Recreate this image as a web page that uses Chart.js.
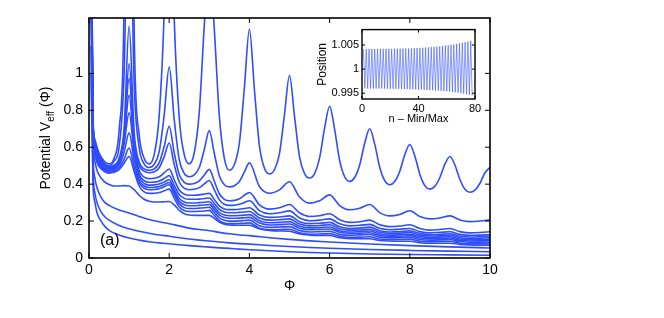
<!DOCTYPE html>
<html>
<head>
<meta charset="utf-8">
<script src="https://cdn.jsdelivr.net/npm/chart.js@4/dist/chart.umd.min.js"></script>
<style>
  html, body { margin: 0; padding: 0; background: #fff; }
  #wrap { position: relative; width: 664px; height: 318px; }
  #main { position: absolute; left: 0; top: 0; }
  #inset { position: absolute; left: 300px; top: 20px; }
</style>
</head>
<body>
<div id="wrap">
  <canvas id="main" width="664" height="318"></canvas>
  <canvas id="inset" width="190" height="110"></canvas>
</div>
<script>
// Phi grids
const phiFine = [0.05, 0.1, 0.15, 0.2, 0.25, 0.375, 0.5, 0.625, 0.75, 0.875, 1, 1.125, 1.25, 1.375, 1.5, 1.625, 1.75, 1.875, 2,
  2.125, 2.25, 2.375, 2.5, 2.625, 2.75, 2.875, 3, 3.125, 3.25, 3.375, 3.5, 3.625, 3.75, 3.875, 4, 4.125, 4.25, 4.375, 4.5,
  4.625, 4.75, 4.875, 5, 5.125, 5.25, 5.375, 5.5, 5.625, 5.75, 5.875, 6, 6.125, 6.25, 6.375, 6.5, 6.625, 6.75, 6.875, 7,
  7.125, 7.25, 7.375, 7.5, 7.625, 7.75, 7.875, 8, 8.125, 8.25, 8.375, 8.5, 8.625, 8.75, 8.875, 9, 9.125, 9.25, 9.375, 9.5,
  9.625, 9.75, 9.875, 10];
const phiMid = [0.05, 0.1, 0.15, 0.2, 0.25, 0.375, 0.5, 0.625, 0.75, 0.875, 1, 1.125, 1.25, 1.375, 1.5, 1.625, 1.75, 1.875, 2,
  2.125, 2.25, 2.375, 2.5, 2.625, 2.75, 2.875, 3, 3.125, 3.25, 3.375, 3.5, 3.625, 3.75, 3.875, 4, 4.25, 4.5, 4.75, 5,
  5.25, 5.5, 5.75, 6, 6.25, 6.5, 6.75, 7, 7.25, 7.5, 7.75, 8, 8.25, 8.5, 8.75, 9, 9.25, 9.5, 9.75, 10];
const phiCoarse = [0.05, 0.1, 0.15, 0.2, 0.3, 0.4, 0.5, 0.75, 1, 1.25, 1.5, 1.75, 2, 2.25, 2.5, 2.75, 3, 3.25, 3.5, 3.75, 4,
  4.5, 5, 5.5, 6, 7, 8, 9, 10];

// V_eff curves (top to bottom)
const v1 = [2.2, 0.76, 0.64, 0.6, 0.57, 0.525, 0.51, 0.54, 0.69, 1.38, 4.9, 1.25, 0.67, 0.54, 0.51, 0.56, 0.77, 1.33, 2.46,
  1.3, 0.76, 0.56, 0.51, 0.57, 0.79, 1.26, 1.64, 1.24, 0.77, 0.54, 0.475, 0.506, 0.623, 0.922, 1.24, 0.913, 0.607, 0.486, 0.455,
  0.478, 0.565, 0.777, 0.99, 0.768, 0.548, 0.457, 0.433, 0.457, 0.542, 0.703, 0.822, 0.697, 0.529, 0.44, 0.415, 0.436, 0.504, 0.622, 0.70,
  0.617, 0.492, 0.419, 0.397, 0.414, 0.47, 0.559, 0.615, 0.553, 0.454, 0.392, 0.373, 0.388, 0.436, 0.508, 0.55, 0.504, 0.425, 0.373, 0.356,
  0.368, 0.405, 0.462, 0.492];
const v2 = [2.1, 0.74, 0.63, 0.59, 0.56, 0.515, 0.50, 0.525, 0.6, 1.0, 2.2, 0.95, 0.6, 0.51, 0.49, 0.507, 0.576, 0.774, 1.036,
  0.75, 0.534, 0.458, 0.44, 0.45, 0.49, 0.588, 0.69, 0.566, 0.446, 0.397, 0.385, 0.391, 0.414, 0.466, 0.515, 0.387, 0.351, 0.369, 0.413,
  0.33, 0.297, 0.31, 0.342, 0.284, 0.261, 0.27, 0.29, 0.246, 0.228, 0.236, 0.256, 0.225, 0.212, 0.217, 0.228, 0.206, 0.197, 0.2, 0.207];
const v3 = [2.0, 0.73, 0.62, 0.58, 0.55, 0.51, 0.495, 0.503, 0.54, 0.698, 1.257, 0.684, 0.521, 0.483, 0.475, 0.483, 0.515, 0.604, 0.714,
  0.569, 0.452, 0.41, 0.40, 0.404, 0.418, 0.45, 0.48, 0.416, 0.348, 0.318, 0.31, 0.312, 0.321, 0.34, 0.355, 0.288, 0.265, 0.272, 0.29,
  0.245, 0.225, 0.229, 0.24, 0.207, 0.193, 0.196, 0.205, 0.18, 0.17, 0.173, 0.18, 0.16, 0.151, 0.154, 0.16, 0.143, 0.136, 0.138, 0.142];
const v4 = [1.95, 0.72, 0.61, 0.57, 0.54, 0.505, 0.49, 0.497, 0.53, 0.665, 1.053, 0.645, 0.504, 0.47, 0.462, 0.467, 0.489, 0.549, 0.623,
  0.506, 0.412, 0.378, 0.37, 0.372, 0.381, 0.401, 0.42, 0.369, 0.315, 0.291, 0.285, 0.286, 0.291, 0.3, 0.31, 0.257, 0.24, 0.245, 0.255,
  0.217, 0.202, 0.205, 0.212, 0.185, 0.174, 0.177, 0.182, 0.161, 0.153, 0.156, 0.16, 0.143, 0.136, 0.139, 0.142, 0.128, 0.123, 0.124, 0.126];
const v5 = [1.9, 0.71, 0.6, 0.56, 0.535, 0.5, 0.485, 0.492, 0.526, 0.654, 0.973, 0.618, 0.475, 0.438, 0.43, 0.432, 0.44, 0.461, 0.482,
  0.424, 0.368, 0.346, 0.34, 0.34, 0.342, 0.346, 0.35, 0.317, 0.282, 0.266, 0.262, 0.262, 0.264, 0.268, 0.272, 0.233, 0.22, 0.222, 0.228,
  0.197, 0.186, 0.188, 0.193, 0.169, 0.16, 0.162, 0.167, 0.148, 0.141, 0.143, 0.147, 0.132, 0.126, 0.128, 0.131, 0.119, 0.114, 0.115, 0.117];
const v6 = [1.85, 0.7, 0.595, 0.555, 0.53, 0.495, 0.48, 0.488, 0.52, 0.638, 0.882, 0.595, 0.457, 0.419, 0.41, 0.411, 0.417, 0.431, 0.446,
  0.394, 0.344, 0.323, 0.318, 0.318, 0.319, 0.322, 0.325, 0.295, 0.263, 0.249, 0.245, 0.245, 0.247, 0.249, 0.252, 0.217, 0.205, 0.207, 0.212,
  0.184, 0.174, 0.176, 0.18, 0.158, 0.151, 0.152, 0.156, 0.139, 0.133, 0.135, 0.138, 0.124, 0.119, 0.12, 0.123, 0.11, 0.106, 0.107, 0.109];
const v7 = [1.8, 0.69, 0.585, 0.545, 0.52, 0.488, 0.475, 0.482, 0.514, 0.617, 0.786, 0.573, 0.444, 0.404, 0.395, 0.396, 0.401, 0.412, 0.424,
  0.373, 0.323, 0.303, 0.298, 0.298, 0.3, 0.302, 0.305, 0.277, 0.246, 0.233, 0.229, 0.229, 0.23, 0.232, 0.235, 0.202, 0.191, 0.193, 0.197,
  0.172, 0.163, 0.165, 0.168, 0.148, 0.141, 0.143, 0.146, 0.13, 0.124, 0.126, 0.129, 0.116, 0.111, 0.113, 0.115, 0.103, 0.099, 0.1, 0.101];
const v8 = [1.75, 0.68, 0.575, 0.535, 0.51, 0.482, 0.47, 0.476, 0.5, 0.573, 0.678, 0.528, 0.424, 0.39, 0.382, 0.383, 0.387, 0.398, 0.409,
  0.358, 0.308, 0.288, 0.283, 0.283, 0.285, 0.287, 0.29, 0.262, 0.232, 0.219, 0.215, 0.215, 0.216, 0.218, 0.22, 0.189, 0.179, 0.181, 0.184,
  0.161, 0.153, 0.155, 0.157, 0.139, 0.133, 0.134, 0.137, 0.122, 0.117, 0.118, 0.121, 0.108, 0.104, 0.105, 0.108, 0.096, 0.092, 0.093, 0.094];
const v9 = [1.7, 0.67, 0.565, 0.527, 0.503, 0.476, 0.465, 0.469, 0.487, 0.535, 0.596, 0.492, 0.408, 0.377, 0.37, 0.371, 0.375, 0.386, 0.397,
  0.344, 0.294, 0.273, 0.268, 0.268, 0.27, 0.272, 0.275, 0.247, 0.217, 0.204, 0.2, 0.2, 0.201, 0.203, 0.205, 0.175, 0.166, 0.168, 0.17,
  0.149, 0.141, 0.143, 0.145, 0.128, 0.123, 0.125, 0.127, 0.113, 0.109, 0.11, 0.112, 0.1, 0.097, 0.098, 0.1, 0.089, 0.085, 0.086, 0.087];
const v10 = [1.65, 0.66, 0.555, 0.518, 0.495, 0.47, 0.46, 0.464, 0.478, 0.513, 0.55, 0.469, 0.39, 0.358, 0.35, 0.351, 0.355, 0.364, 0.373,
  0.324, 0.276, 0.257, 0.252, 0.252, 0.253, 0.255, 0.258, 0.231, 0.202, 0.189, 0.186, 0.186, 0.187, 0.188, 0.19, 0.161, 0.153, 0.154, 0.156,
  0.136, 0.129, 0.13, 0.132, 0.117, 0.112, 0.113, 0.115, 0.103, 0.099, 0.1, 0.102, 0.091, 0.088, 0.089, 0.091, 0.08, 0.077, 0.078, 0.079];
const v11 = [1.55, 0.63, 0.52, 0.475, 0.45, 0.415, 0.398, 0.39, 0.39, 0.392, 0.39, 0.37, 0.34, 0.318, 0.307, 0.303, 0.303, 0.305, 0.306,
  0.288, 0.258, 0.24, 0.233, 0.231, 0.231, 0.231, 0.231, 0.215, 0.194, 0.183, 0.179, 0.178, 0.177, 0.177, 0.177, 0.158, 0.149, 0.146, 0.145,
  0.13, 0.124, 0.122, 0.122, 0.11, 0.105, 0.104, 0.104, 0.095, 0.092, 0.091, 0.091, 0.083, 0.08, 0.08, 0.08, 0.074, 0.071, 0.07, 0.07];
const v12 = [1.3, 0.56, 0.43, 0.38, 0.33, 0.3, 0.285, 0.26, 0.244, 0.225, 0.208, 0.196, 0.186, 0.174, 0.162, 0.154, 0.148, 0.139, 0.131,
  0.125, 0.121, 0.11, 0.101, 0.093, 0.087, 0.076, 0.067, 0.06, 0.054];
const v13 = [1.15, 0.47, 0.35, 0.3, 0.25, 0.222, 0.205, 0.176, 0.158, 0.145, 0.134, 0.125, 0.118, 0.11, 0.103, 0.097, 0.092, 0.087, 0.082,
  0.078, 0.075, 0.068, 0.062, 0.057, 0.053, 0.046, 0.041, 0.037, 0.034];
const v14 = [1.0, 0.4, 0.3, 0.245, 0.2, 0.17, 0.15, 0.125, 0.108, 0.097, 0.088, 0.082, 0.077, 0.072, 0.067, 0.063, 0.059, 0.055, 0.052,
  0.048, 0.045, 0.039, 0.034, 0.03, 0.027, 0.022, 0.019, 0.017, 0.015];

const yTicks = [0, 0.2, 0.4, 0.6, 0.8, 1];

// inset: positions at the successive maxima (odd n) and minima (even n)
const posMax = [1.00416, 1.00416, 1.00417, 1.00417, 1.00418, 1.00418, 1.00419, 1.00419, 1.0042, 1.0042, 1.00421, 1.00422, 1.00423,
  1.00424, 1.00425, 1.00427, 1.00429, 1.00431, 1.00434, 1.00437, 1.0044, 1.00444, 1.00448, 1.00452, 1.00457, 1.00462, 1.00468,
  1.00474, 1.0048, 1.00487, 1.00495, 1.00503, 1.00512, 1.00522, 1.00533, 1.00545, 1.00558, 1.00572, 1.00588];
const posMin = [0.99598, 0.99598, 0.99597, 0.99597, 0.99596, 0.99596, 0.99595, 0.99595, 0.99594, 0.99593, 0.99592, 0.99591, 0.9959,
  0.99589, 0.99587, 0.99585, 0.99583, 0.99581, 0.99578, 0.99575, 0.99572, 0.99568, 0.99566, 0.99564, 0.99562, 0.99558, 0.99554,
  0.99549, 0.99545, 0.9954, 0.99535, 0.99528, 0.9952, 0.99511, 0.99501, 0.9949, 0.99478, 0.99463, 0.99445];
const insetTicksY = [0.995, 1, 1.005];

const FONT = '"Liberation Sans", Arial, Helvetica, sans-serif';
const BLUE = '#2f4cff';

const curves = [
  [phiFine, v1], [phiMid, v2], [phiMid, v3], [phiMid, v4], [phiMid, v5], [phiMid, v6], [phiMid, v7],
  [phiMid, v8], [phiMid, v9], [phiMid, v10], [phiMid, v11], [phiCoarse, v12], [phiCoarse, v13], [phiCoarse, v14]
];

const datasets = curves.map(([xs, ys]) => ({
  data: xs.map((x, i) => ({ x: x, y: ys[i] })),
  borderColor: BLUE,
  borderWidth: 1.6,
  pointRadius: 0,
  fill: false,
  clip: 0,
  cubicInterpolationMode: 'monotone'
}));

// box with inward ticks, drawn over the data
const framePlugin = {
  id: 'frame',
  afterDatasetsDraw(chart, args, opts) {
    const { ctx, chartArea: a, scales } = chart;
    ctx.save();
    ctx.strokeStyle = '#000';
    ctx.lineWidth = opts.tickWidth;
    ctx.beginPath();
    scales.x.ticks.forEach(t => {
      const px = scales.x.getPixelForValue(t.value);
      ctx.moveTo(px, a.bottom); ctx.lineTo(px, a.bottom - opts.tick);
      ctx.moveTo(px, a.top); ctx.lineTo(px, a.top + opts.tick);
    });
    scales.y.ticks.forEach(t => {
      const py = scales.y.getPixelForValue(t.value);
      ctx.moveTo(a.left, py); ctx.lineTo(a.left + opts.tick, py);
      ctx.moveTo(a.right, py); ctx.lineTo(a.right - opts.tick, py);
    });
    ctx.stroke();
    ctx.lineWidth = opts.boxWidth;
    ctx.strokeRect(a.left, a.top, a.right - a.left, a.bottom - a.top);
    ctx.restore();
  }
};

const whiteArea = {
  id: 'whiteArea',
  beforeDatasetsDraw(chart) {
    const { ctx, chartArea: a } = chart;
    ctx.save();
    ctx.fillStyle = '#fff';
    ctx.fillRect(a.left, a.top, a.right - a.left, a.bottom - a.top);
    ctx.restore();
  }
};

const mainLabels = {
  id: 'mainLabels',
  afterDraw(chart) {
    const { ctx, chartArea: a } = chart;
    ctx.save();
    ctx.fillStyle = '#000';
    // y axis title with subscript
    ctx.translate(50, (a.top + a.bottom) / 2);
    ctx.rotate(-Math.PI / 2);
    ctx.font = '14px ' + FONT;
    const p1 = 'Potential V', p3 = ' (\u03A6)';
    const w1 = ctx.measureText(p1).width, w3 = ctx.measureText(p3).width;
    ctx.font = '10px ' + FONT;
    const w2 = ctx.measureText('eff').width;
    const x0 = -(w1 + w2 + w3) / 2;
    ctx.font = '14px ' + FONT;
    ctx.fillText(p1, x0, 0);
    ctx.font = '10px ' + FONT;
    ctx.fillText('eff', x0 + w1, 4);
    ctx.font = '14px ' + FONT;
    ctx.fillText(p3, x0 + w1 + w2, 0);
    ctx.restore();

    ctx.save();
    ctx.fillStyle = '#000';
    ctx.font = '14px ' + FONT;
    ctx.textAlign = 'center';
    ctx.fillText('\u03A6', (a.left + a.right) / 2, 290);
    ctx.font = '16px ' + FONT;
    ctx.textAlign = 'left';
    ctx.fillText('(a)', 100, 245);
    ctx.restore();
  }
};

new Chart(document.getElementById('main'), {
  type: 'line',
  data: { datasets: datasets },
  options: {
    responsive: false,
    animation: false,
    events: [],
    layout: { padding: { left: 0, right: 174, top: 18, bottom: 0 } },
    plugins: {
      legend: { display: false },
      tooltip: { enabled: false },
      frame: { tick: 5, tickWidth: 1, boxWidth: 1.6 }
    },
    scales: {
      x: {
        type: 'linear', min: 0, max: 10,
        grid: { display: false, drawTicks: false },
        border: { display: false },
        ticks: { stepSize: 2, padding: 4, color: '#000', maxRotation: 0, font: { family: FONT, size: 14 } },
        afterFit(scale) { scale.height = 60; }
      },
      y: {
        type: 'linear', min: 0, max: 1.3,
        grid: { display: false, drawTicks: false },
        border: { display: false },
        ticks: { padding: 6, color: '#000', font: { family: FONT, size: 14 }, callback: v => String(v) },
        afterBuildTicks(scale) { scale.ticks = yTicks.map(v => ({ value: v })); },
        afterFit(scale) { scale.width = 89; }
      }
    }
  },
  plugins: [framePlugin, mainLabels]
});

// inset chart
const insetData = [];
posMax.forEach((v, i) => {
  insetData.push({ x: 2 * i + 1, y: v });
  insetData.push({ x: 2 * i + 2, y: posMin[i] });
});

const insetLabels = {
  id: 'insetLabels',
  afterDraw(chart) {
    const { ctx, chartArea: a } = chart;
    ctx.save();
    ctx.fillStyle = '#000';
    ctx.font = '11px ' + FONT;
    ctx.textAlign = 'center';
    ctx.fillText('n \u2013 Min/Max', (a.left + a.right) / 2, 102);
    ctx.translate(26, (a.top + a.bottom) / 2);
    ctx.rotate(-Math.PI / 2);
    ctx.font = '12px ' + FONT;
    ctx.fillText('Position', 0, 0);
    ctx.restore();
  }
};

new Chart(document.getElementById('inset'), {
  type: 'line',
  data: {
    datasets: [{
      data: insetData,
      borderColor: 'rgba(45,75,255,0.7)',
      borderWidth: 0.8,
      pointRadius: 0,
      tension: 0,
      clip: 0
    }]
  },
  options: {
    responsive: false,
    animation: false,
    events: [],
    layout: { padding: { left: 0, right: 15, top: 8, bottom: 0 } },
    plugins: {
      legend: { display: false },
      tooltip: { enabled: false },
      frame: { tick: 3, tickWidth: 1, boxWidth: 1.4 }
    },
    scales: {
      x: {
        type: 'linear', min: 0, max: 80,
        grid: { display: false, drawTicks: false },
        border: { display: false },
        ticks: { stepSize: 40, padding: 3, color: '#000', maxRotation: 0, font: { family: FONT, size: 11 } },
        afterFit(scale) { scale.height = 31; }
      },
      y: {
        type: 'linear', min: 0.9938, max: 1.0082,
        grid: { display: false, drawTicks: false },
        border: { display: false },
        ticks: { padding: 3, color: '#000', font: { family: FONT, size: 11 }, callback: v => String(v) },
        afterBuildTicks(scale) { scale.ticks = insetTicksY.map(v => ({ value: v })); },
        afterFit(scale) { scale.width = 62; }
      }
    }
  },
  plugins: [whiteArea, framePlugin, insetLabels]
});
</script>
</body>
</html>
